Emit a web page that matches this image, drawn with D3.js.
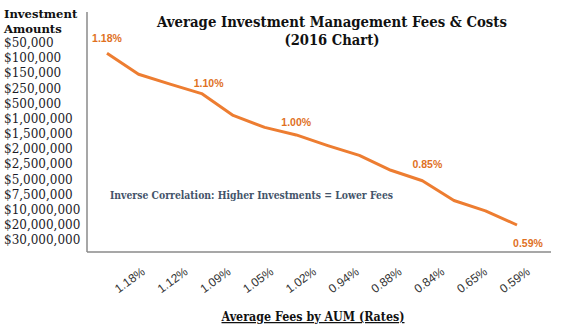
<!DOCTYPE html>
<html>
<head>
<meta charset="utf-8">
<script src="https://cdn.jsdelivr.net/npm/d3@7"></script>
<style>
  body { margin: 0; background: #fff; }
  svg { display: block; }
</style>
</head>
<body>
<div id="container"></div>
<script>
/* DATA */
const amounts = ["$50,000", "$100,000", "$150,000", "$250,000", "$500,000",
  "$1,000,000", "$1,500,000", "$2,000,000", "$2,500,000", "$5,000,000",
  "$7,500,000", "$10,000,000", "$20,000,000", "$30,000,000"];
const feeRates = [1.18, 1.14, 1.12, 1.10, 1.05, 1.02, 1.00, 0.97, 0.94, 0.89, 0.85, 0.76, 0.70, 0.59];
const axisRates = ["1.18%", "1.12%", "1.09%", "1.05%", "1.02%", "0.94%", "0.88%", "0.84%", "0.65%", "0.59%"];
const labeledIdx = [0, 3, 6, 10, 13];

/* CONSTANTS */
const width = 563, height = 329;
const serif = "'DejaVu Serif', Georgia, serif";
const sans = "'Liberation Sans', Arial, sans-serif";

const svg = d3.select("#container")
  .append("svg")
  .attr("width", width)
  .attr("height", height);

// SCALES
const xLine = d3.scalePoint().domain(d3.range(amounts.length)).range([107, 517]);
const yLine = d3.scalePow().exponent(3.4).domain([0.59, 1.18]).range([225, 53.3]);
const yAmount = d3.scalePoint().domain(amounts).range([42.7, 240]);
const xRate = d3.scalePoint().domain(axisRates).range([143, 528]);

// FRAME LINES
svg.append("line")
  .attr("x1", 87).attr("x2", 87).attr("y1", 12).attr("y2", 252)
  .attr("stroke", "#8a8a8a").attr("stroke-width", 1.5);
svg.append("line")
  .attr("x1", 87).attr("x2", 551).attr("y1", 252).attr("y2", 252)
  .attr("stroke", "#8a8a8a").attr("stroke-width", 1.5);

// LEFT LIST OF AMOUNTS
const yAxis = d3.axisLeft(yAmount).tickSize(0).tickPadding(0);
svg.append("g")
  .attr("transform", "translate(4,0)")
  .call(yAxis)
  .call(g => g.select(".domain").remove())
  .selectAll("text")
  .attr("text-anchor", "start")
  .attr("font-family", serif)
  .attr("font-size", 12)
  .attr("fill", "#1c1c28");

svg.append("text")
  .attr("x", 4).attr("y", 18)
  .attr("font-family", serif).attr("font-weight", "bold").attr("font-size", 11.6)
  .attr("fill", "#111")
  .text("Investment");
svg.append("text")
  .attr("x", 4).attr("y", 33)
  .attr("font-family", serif).attr("font-weight", "bold").attr("font-size", 11.6)
  .attr("fill", "#111")
  .text("Amounts");

// TITLE
svg.append("text")
  .attr("x", 332).attr("y", 27)
  .attr("text-anchor", "middle")
  .attr("font-family", serif).attr("font-weight", "bold").attr("font-size", 14.5)
  .attr("textLength", 350).attr("lengthAdjust", "spacingAndGlyphs")
  .attr("fill", "#111")
  .text("Average Investment Management Fees & Costs");
svg.append("text")
  .attr("x", 332).attr("y", 45)
  .attr("text-anchor", "middle")
  .attr("font-family", serif).attr("font-weight", "bold").attr("font-size", 14.5)
  .attr("textLength", 95).attr("lengthAdjust", "spacingAndGlyphs")
  .attr("fill", "#111")
  .text("(2016 Chart)");

// LINE
const lineGen = d3.line()
  .x((d, i) => xLine(i))
  .y(d => yLine(d));

svg.append("path")
  .datum(feeRates)
  .attr("d", lineGen)
  .attr("fill", "none")
  .attr("stroke", "#ED7D31")
  .attr("stroke-width", 3)
  .attr("stroke-linejoin", "round");

// DATA LABELS (last one sits under its point)
const labelShift = {0: [0, -11], 3: [7, -7], 6: [0, -9], 10: [5, -13], 13: [11, 22]};
svg.selectAll(".dlabel")
  .data(labeledIdx)
  .join("text")
  .attr("class", "dlabel")
  .attr("x", i => xLine(i) + labelShift[i][0])
  .attr("y", i => yLine(feeRates[i]) + labelShift[i][1])
  .attr("text-anchor", "middle")
  .attr("font-family", sans).attr("font-weight", "bold").attr("font-size", 10.5)
  .attr("fill", "#E0711F")
  .text(i => d3.format(".2f")(feeRates[i]) + "%");

// ANNOTATION
svg.append("text")
  .attr("x", 110).attr("y", 199)
  .attr("font-family", serif).attr("font-weight", "bold").attr("font-size", 10.5)
  .attr("textLength", 283).attr("lengthAdjust", "spacingAndGlyphs")
  .attr("fill", "#44546A")
  .text("Inverse Correlation: Higher Investments = Lower Fees");

// BOTTOM RATE LABELS
const xAxis = d3.axisBottom(xRate).tickSize(0).tickPadding(0);
svg.append("g")
  .attr("transform", "translate(0,270)")
  .call(xAxis)
  .call(g => g.select(".domain").remove())
  .selectAll("text")
  .attr("x", 0).attr("y", 0).attr("dy", "0.35em")
  .attr("text-anchor", "end")
  .attr("transform", "rotate(-36)")
  .attr("font-family", sans)
  .attr("font-size", 12)
  .attr("fill", "#333");

// AXIS TITLE
svg.append("text")
  .attr("x", 313).attr("y", 321)
  .attr("text-anchor", "middle")
  .attr("font-family", serif).attr("font-weight", "bold").attr("font-size", 12.5)
  .attr("textLength", 183).attr("lengthAdjust", "spacingAndGlyphs")
  .attr("text-decoration", "underline")
  .attr("fill", "#111")
  .text("Average Fees by AUM (Rates)");
</script>
</body>
</html>
